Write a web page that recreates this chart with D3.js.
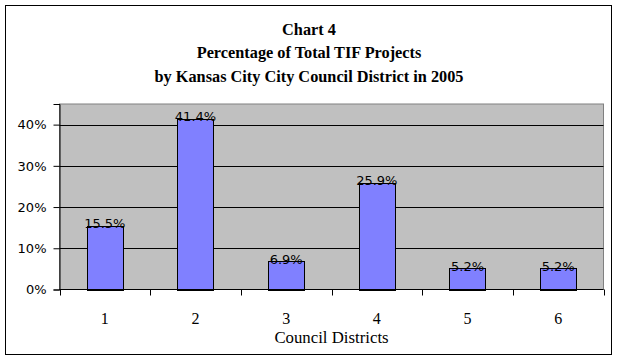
<!DOCTYPE html>
<html>
<head>
<meta charset="utf-8">
<script src="https://cdn.jsdelivr.net/npm/d3@7"></script>
<style>
  html, body { margin: 0; padding: 0; background: #fff; }
  svg { display: block; }
</style>
</head>
<body>
<svg id="chart" width="618" height="360"></svg>
<script>
const categories = ["1", "2", "3", "4", "5", "6"];
const values = [15.5, 41.4, 6.9, 25.9, 5.2, 5.2];
const yTicks = [0, 10, 20, 30, 40];
const titleLines = ["Chart 4", "Percentage of Total TIF Projects", "by Kansas City City Council District in 2005"];
const xTitle = "Council Districts";

const svg = d3.select("#chart");
const plot = { left: 59.5, right: 603.5, top: 104, bottom: 289.5 };

// outer border
svg.append("rect").attr("x", 5.5).attr("y", 5.5).attr("width", 606).attr("height", 349)
  .attr("fill", "#fff").attr("stroke", "#000").attr("stroke-width", 1);

// title
const title = svg.append("text").attr("text-anchor", "middle")
  .attr("font-family", "'Liberation Serif', serif").attr("font-weight", "bold")
  .attr("font-size", 16.3).attr("fill", "#000");
titleLines.forEach((t, i) => {
  title.append("tspan").attr("x", 309).attr("y", 34.5 + i * 23.5).text(t);
});

const x = d3.scaleBand().domain(categories).range([plot.left, plot.right]).padding(0);
const y = d3.scaleLinear().domain([0, 45]).range([plot.bottom, plot.top]);

// plot area background
svg.append("rect").attr("x", plot.left).attr("y", plot.top)
  .attr("width", plot.right - plot.left).attr("height", plot.bottom - plot.top)
  .attr("fill", "#C0C0C0").attr("stroke", "#808080").attr("stroke-width", 1);

// gridlines
svg.append("g").selectAll("line").data(yTicks.filter(d => d > 0)).join("line")
  .attr("x1", plot.left).attr("x2", plot.right)
  .attr("y1", d => Math.round(y(d)) + 0.5).attr("y2", d => Math.round(y(d)) + 0.5)
  .attr("stroke", "#000").attr("stroke-width", 1);

// bars
const bw = x.bandwidth() * 0.4;
svg.append("g").selectAll("rect").data(values).join("rect")
  .attr("x", (d, i) => Math.round(x(categories[i]) + (x.bandwidth() - bw) / 2) + 0.5)
  .attr("y", d => Math.round(y(d)) + 0.5)
  .attr("width", Math.round(bw))
  .attr("height", d => Math.round(y(0)) - Math.round(y(d)))
  .attr("fill", "#8080FF").attr("stroke", "#000").attr("stroke-width", 1);

// data labels
svg.append("g").selectAll("text").data(values).join("text")
  .attr("x", (d, i) => x(categories[i]) + x.bandwidth() / 2)
  .attr("y", d => y(d) + 2.5)
  .attr("text-anchor", "middle")
  .attr("font-family", "'DejaVu Sans', sans-serif").attr("font-size", 13)
  .attr("fill", "#000")
  .text(d => d.toFixed(1) + "%");

// y axis
const yAxis = d3.axisLeft(y).tickValues(yTicks).tickSize(6).tickPadding(7)
  .tickFormat(d => d + "%");
const gy = svg.append("g").attr("transform", `translate(${plot.left},0)`).call(yAxis);
gy.select(".domain").attr("stroke", "#000");
gy.selectAll(".tick line").attr("stroke", "#000");
gy.selectAll(".tick text").attr("font-family", "'DejaVu Sans', sans-serif")
  .attr("font-size", 13).attr("fill", "#000");

// x axis: ticks between categories
const boundaries = categories.map(c => x(c)).concat([plot.right]);
const gx = svg.append("g");
gx.append("line").attr("x1", plot.left).attr("x2", plot.right)
  .attr("y1", plot.bottom).attr("y2", plot.bottom).attr("stroke", "#000");
gx.selectAll("line.tk").data(boundaries).join("line").attr("class", "tk")
  .attr("x1", d => Math.round(d) + 0.5).attr("x2", d => Math.round(d) + 0.5)
  .attr("y1", plot.bottom).attr("y2", plot.bottom + 6).attr("stroke", "#000");
gx.selectAll("text").data(categories).join("text")
  .attr("x", d => x(d) + x.bandwidth() / 2).attr("y", 323.5)
  .attr("text-anchor", "middle")
  .attr("font-family", "'Liberation Serif', serif").attr("font-size", 16)
  .attr("fill", "#000").text(d => d);

svg.append("text").attr("x", (plot.left + plot.right) / 2).attr("y", 342.5)
  .attr("text-anchor", "middle")
  .attr("font-family", "'Liberation Serif', serif").attr("font-size", 16.8)
  .attr("fill", "#000").text(xTitle);
</script>
</body>
</html>
